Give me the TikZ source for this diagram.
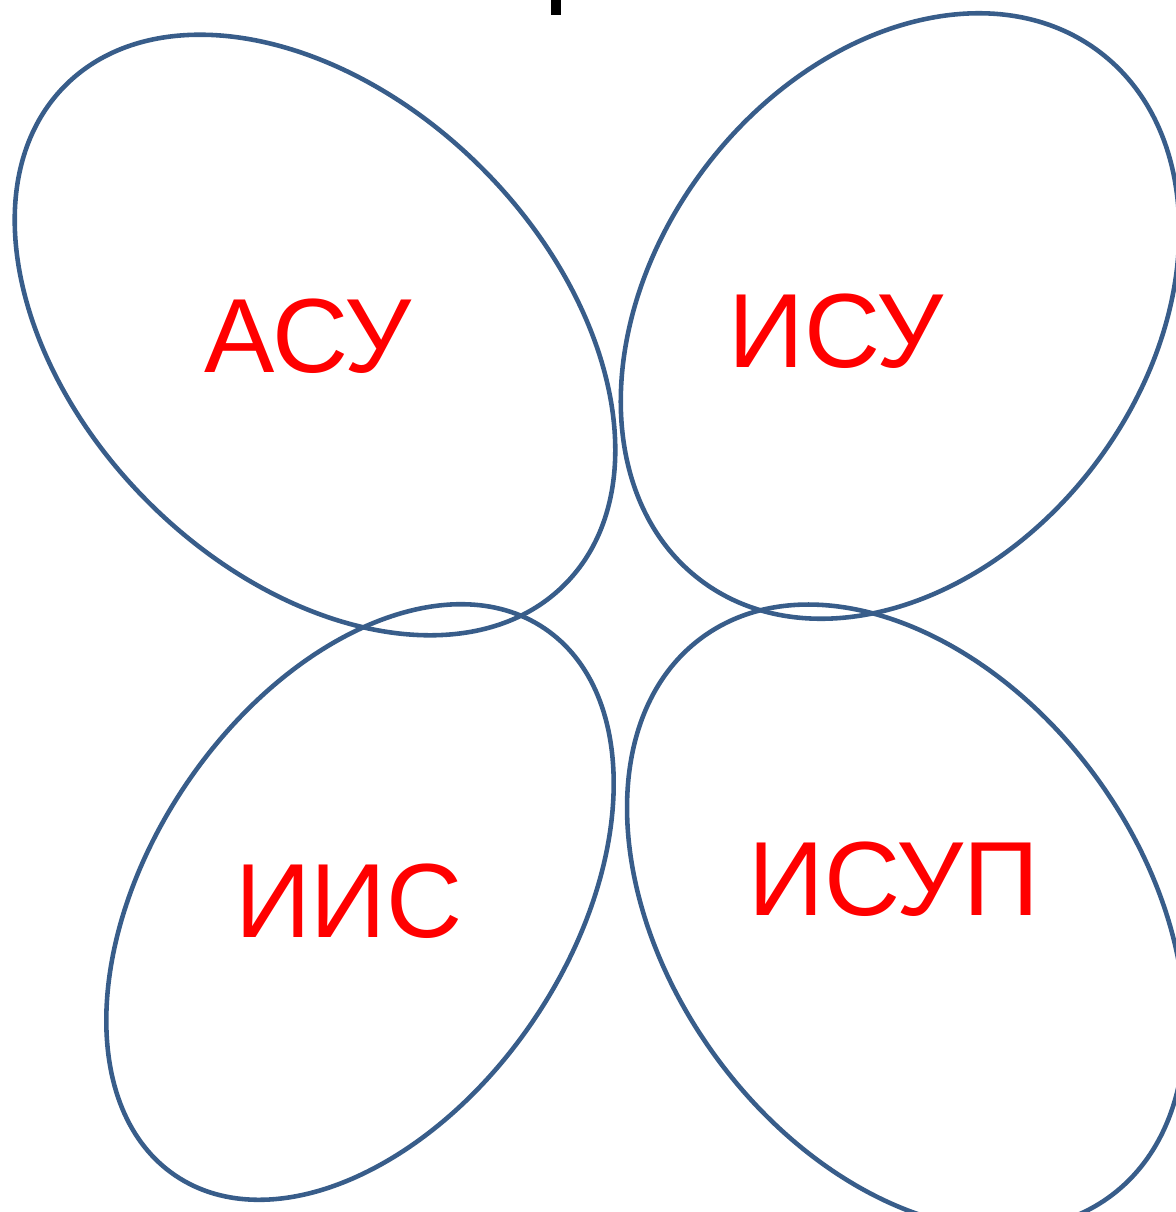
\documentclass[tikz,border=0pt]{standalone}
\usepackage{fontspec}
\setmainfont{Liberation Sans}
\usepackage{xcolor}
\usepackage{tikz}
\usetikzlibrary{positioning}

\definecolor{petalblue}{HTML}{385D8A}

\begin{document}
\begin{tikzpicture}[
    petal/.style={draw=petalblue, line width=1.3pt},
    lbl/.style={text=red, font=\fontsize{30}{36}\selectfont, inner sep=0pt},
]

\useasboundingbox (0,0) rectangle (11.76,-12.12);
\clip (0,0) rectangle (11.76,-12.12);

% black mark at the top
\fill[black] (5.51,0.05) rectangle (5.61,-0.15);

% the four petals
\draw[petal, rotate around={-45:(3.15,-3.35)}] (3.15,-3.35) ellipse (3.53cm and 2.36cm);
\draw[petal, rotate around={53:(9.00,-3.16)}] (9.00,-3.16) ellipse (3.31cm and 2.45cm);
\draw[petal, rotate around={56:(3.60,-9.02)}] (3.60,-9.02) ellipse (3.30cm and 2.10cm);
\draw[petal, rotate around={-54:(9.06,-9.17)}] (9.06,-9.17) ellipse (3.46cm and 2.36cm);

\node[lbl] (asu) at (3.08,-3.36) {АСУ};
\node[lbl] (isu) at (8.36,-3.31) {ИСУ};
\node[lbl] (iis) at (3.49,-9.01) {ИИС};
\node[lbl] (isup) at (8.94,-8.79) {ИСУП};

\end{tikzpicture}
\end{document}
